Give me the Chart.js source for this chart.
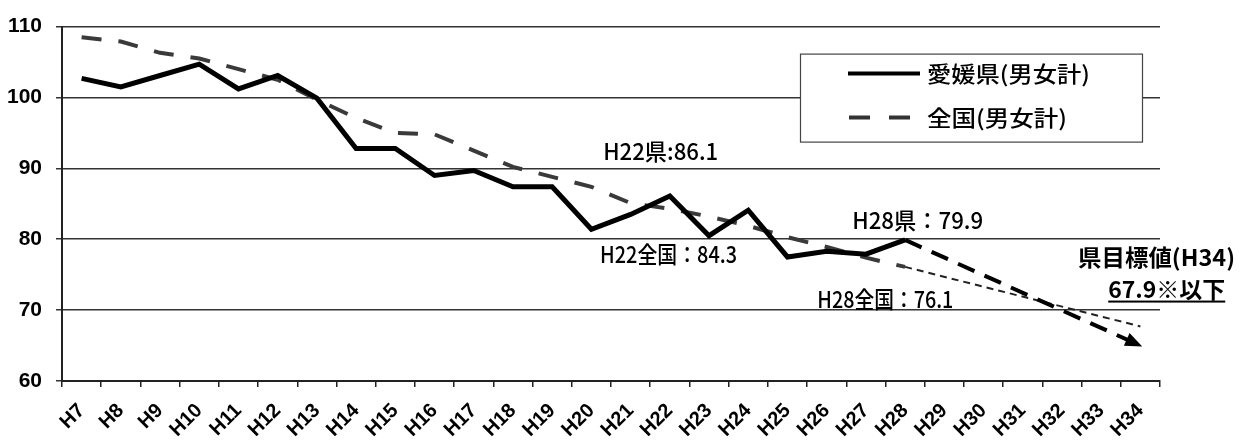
<!DOCTYPE html>
<html lang="ja">
<head>
<meta charset="utf-8">
<title>年齢調整死亡率の推移</title>
<script src="https://cdn.jsdelivr.net/npm/chart.js@4.4.1/dist/chart.umd.min.js"></script>
<style>
  html, body { margin: 0; padding: 0; background: #fff; }
  canvas { display: block; }
</style>
</head>
<body>
<canvas id="rateChart" width="1244" height="445"></canvas>
<script>
// 年度 (H7〜H34)
const categories = ['H7', 'H8', 'H9', 'H10', 'H11', 'H12', 'H13', 'H14', 'H15', 'H16',
  'H17', 'H18', 'H19', 'H20', 'H21', 'H22', 'H23', 'H24', 'H25', 'H26',
  'H27', 'H28', 'H29', 'H30', 'H31', 'H32', 'H33', 'H34'];

// 愛媛県(男女計) H7〜H28
const ehimeValues = [102.7, 101.5, 103.1, 104.7, 101.2, 103.1, 99.9, 92.8, 92.8, 89.0,
  89.7, 87.4, 87.4, 81.4, 83.5, 86.1, 80.5, 84.1, 77.5, 78.3, 77.9, 79.9];

// 全国(男女計) H7〜H28
const nationalValues = [108.5, 107.9, 106.3, 105.5, 104.0, 102.5, 99.7, 97.1, 95.0, 94.8,
  92.5, 90.2, 88.8, 87.4, 85.1, 84.3, 83.2, 81.9, 80.3, 78.9, 77.4, 76.1];

// H28 から H34 への見通し
const trendYears = ['H28', 'H34'];
const ehimeTargetValues = [79.9, 65.0];
const nationalTrendValues = [76.1, 67.7];

const yTicks = [60, 70, 80, 90, 100, 110];

const jpFont = '"Noto Sans CJK JP", "Noto Sans", sans-serif';
const latinFont = '"Liberation Sans", Arial, sans-serif';

function fitText(ctx, text, x, y, width, font) {
  ctx.save();
  ctx.font = font;
  const w = ctx.measureText(text).width;
  ctx.translate(x, y);
  ctx.scale(width / w, 1);
  ctx.fillText(text, 0, 0);
  ctx.restore();
}

// 凡例・注記・矢印
const overlay = {
  id: 'overlay',
  afterDatasetsDraw(chart) {
    const ctx = chart.ctx;
    const xs = chart.scales.x;
    const ys = chart.scales.y;
    const area = chart.chartArea;

    // 県目標への矢じり
    const pts = chart.getDatasetMeta(2).data;
    const tip = pts[pts.length - 1];
    const from = pts[pts.length - 2];
    const ang = Math.atan2(tip.y - from.y, tip.x - from.x);
    ctx.save();
    ctx.translate(tip.x, tip.y);
    ctx.rotate(ang);
    ctx.fillStyle = '#000';
    ctx.beginPath();
    ctx.moveTo(2, 0);
    ctx.lineTo(-15, -7);
    ctx.lineTo(-15, 7);
    ctx.closePath();
    ctx.fill();
    ctx.restore();

    // 凡例
    const lx = area.left + 738, ly = area.top + 27;
    ctx.save();
    ctx.fillStyle = '#fff';
    ctx.fillRect(lx, ly, 342, 88);
    ctx.strokeStyle = '#444';
    ctx.lineWidth = 1.2;
    ctx.strokeRect(lx + 0.5, ly + 0.5, 342, 88);

    ctx.strokeStyle = '#000';
    ctx.lineWidth = 4;
    ctx.beginPath();
    ctx.moveTo(lx + 48, ly + 20);
    ctx.lineTo(lx + 120, ly + 20);
    ctx.stroke();

    ctx.strokeStyle = '#333';
    ctx.setLineDash([21, 19]);
    ctx.beginPath();
    ctx.moveTo(lx + 49, ly + 64);
    ctx.lineTo(lx + 111, ly + 64);
    ctx.stroke();
    ctx.setLineDash([]);

    ctx.fillStyle = '#000';
    ctx.textAlign = 'left';
    ctx.textBaseline = 'middle';
    fitText(ctx, '愛媛県(男女計)', lx + 127, ly + 20, 163, '500 22px ' + jpFont);
    fitText(ctx, '全国(男女計)', lx + 127, ly + 64, 140, '500 22px ' + jpFont);
    ctx.restore();

    // 注記
    const notes = [
      { text: 'H22県:86.1', at: 13.30, v: 92.4, w: 115 },
      { text: 'H22全国：84.3', at: 13.22, v: 77.9, w: 137 },
      { text: 'H28県：79.9', at: 19.65, v: 82.7, w: 131 },
      { text: 'H28全国：76.1', at: 18.76, v: 71.6, w: 136 },
      { text: '県目標値(H34)', at: 25.41, v: 77.45, w: 157, bold: true },
      { text: '67.9※以下', at: 26.18, v: 72.9, w: 117, bold: true, underline: true }
    ];
    ctx.save();
    ctx.fillStyle = '#000';
    ctx.textAlign = 'left';
    ctx.textBaseline = 'middle';
    notes.forEach(n => {
      const x = xs.getPixelForValue(n.at);
      const y = ys.getPixelForValue(n.v);
      const font = (n.bold ? 'bold ' : '500 ') + '23px ' + jpFont;
      fitText(ctx, n.text, x, y, n.w, font);
      if (n.underline) {
        ctx.fillRect(x, y + 11, n.w, 2);
      }
    });
    ctx.restore();
  }
};

new Chart(document.getElementById('rateChart'), {
  type: 'line',
  data: {
    labels: categories,
    datasets: [
      {
        label: '愛媛県(男女計)',
        data: ehimeValues,
        borderColor: '#000',
        borderWidth: 5,
        pointRadius: 0,
        tension: 0
      },
      {
        label: '全国(男女計)',
        data: nationalValues,
        borderColor: '#3a3a3a',
        borderWidth: 4,
        borderDash: [20, 17],
        pointRadius: 0,
        tension: 0
      },
      {
        label: '県目標',
        data: trendYears.map((y, i) => ({ x: y, y: ehimeTargetValues[i] })),
        borderColor: '#000',
        borderWidth: 4,
        borderDash: [18, 11],
        pointRadius: 0
      },
      {
        label: '全国見通し',
        data: trendYears.map((y, i) => ({ x: y, y: nationalTrendValues[i] })),
        borderColor: '#222',
        borderWidth: 2,
        borderDash: [7, 5],
        pointRadius: 0
      }
    ]
  },
  options: {
    responsive: false,
    animation: false,
    layout: { padding: { top: 20, right: 84, left: 0, bottom: 0 } },
    plugins: {
      legend: { display: false },
      tooltip: { enabled: false }
    },
    scales: {
      x: {
        offset: true,
        grid: {
          offset: true,
          drawOnChartArea: false,
          color: '#222',
          lineWidth: 1.5,
          tickLength: 6
        },
        border: { color: '#222', width: 2 },
        ticks: {
          autoSkip: false,
          maxRotation: 45,
          minRotation: 45,
          padding: 12,
          color: '#000',
          font: { family: latinFont, size: 20, weight: 'bold' }
        },
        afterFit: (scale) => { scale.height = 64; }
      },
      y: {
        min: 60,
        max: 110,
        afterBuildTicks: (scale) => {
          scale.ticks = yTicks.map(v => ({ value: v }));
        },
        grid: {
          color: '#333',
          lineWidth: 1.5,
          tickLength: 6
        },
        border: { color: '#222', width: 2 },
        ticks: {
          padding: 14,
          color: '#000',
          font: { family: latinFont, size: 21, weight: 'bold' }
        },
        afterFit: (scale) => { scale.width = 62; }
      }
    }
  },
  plugins: [overlay]
});
</script>
</body>
</html>
